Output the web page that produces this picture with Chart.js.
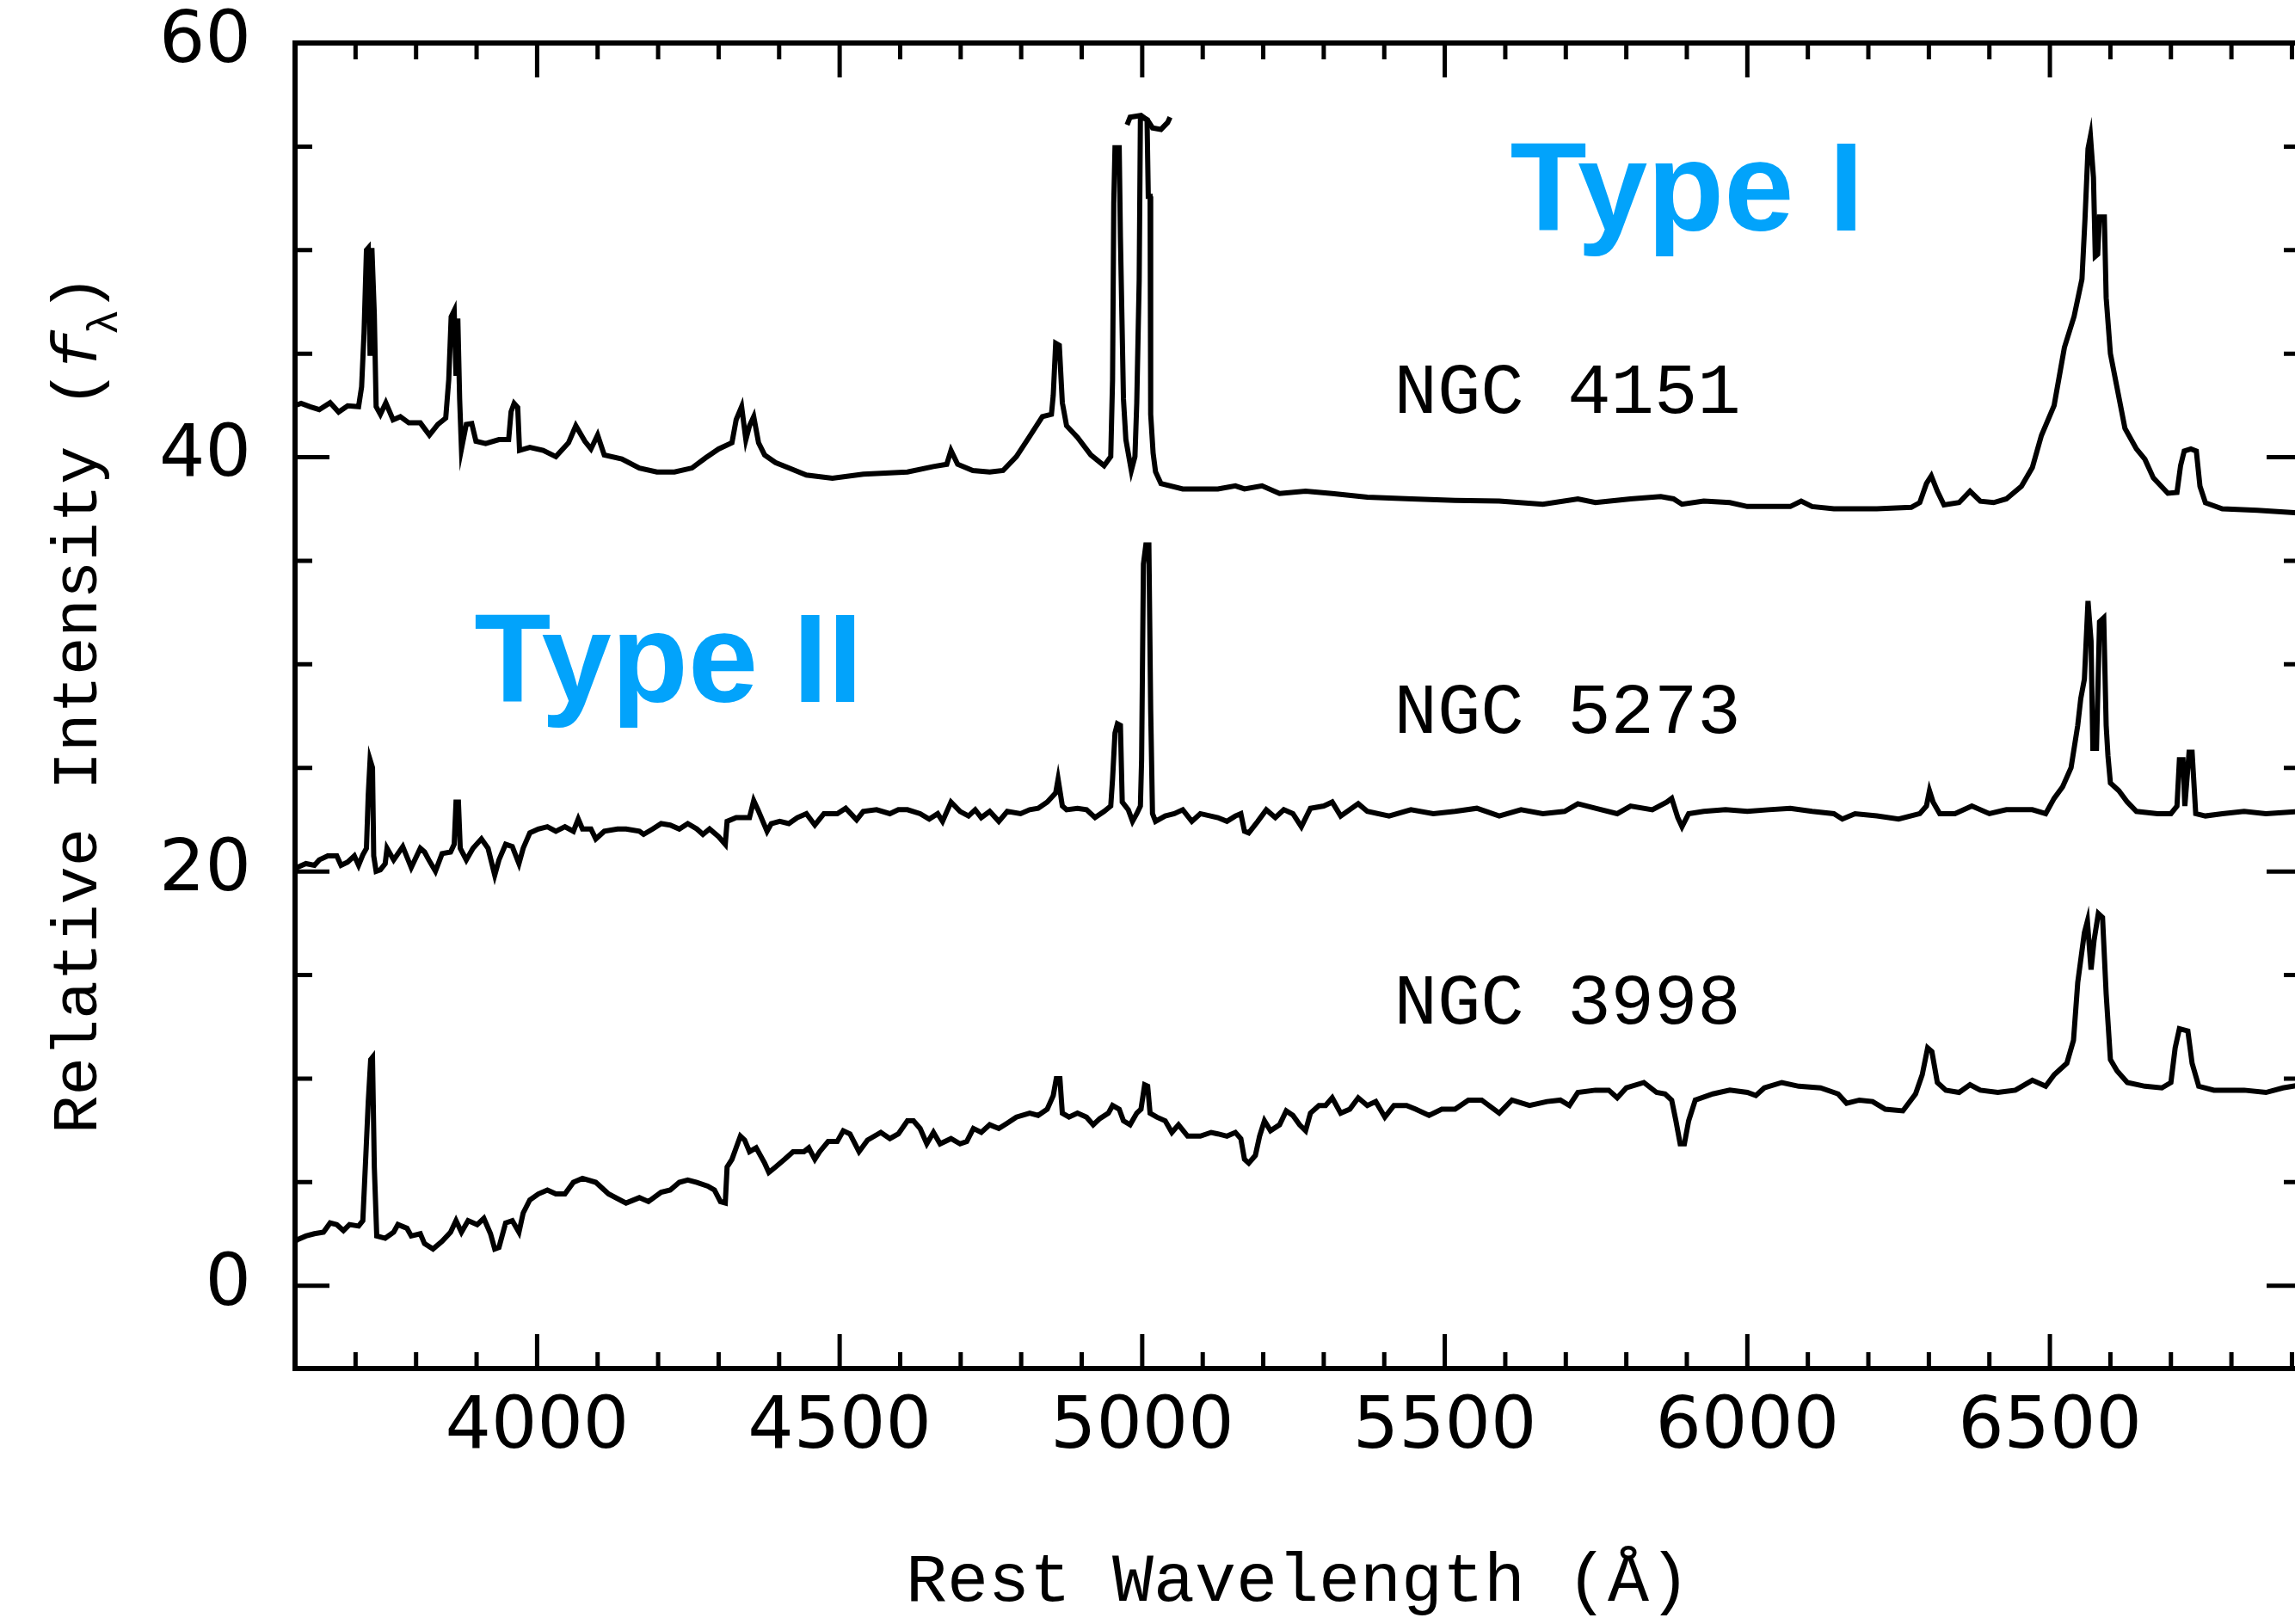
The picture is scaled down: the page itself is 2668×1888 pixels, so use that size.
<!DOCTYPE html>
<html>
<head>
<meta charset="utf-8">
<script src="https://cdn.jsdelivr.net/npm/chart.js@4.4.1/dist/chart.umd.min.js"></script>
<style>
  html, body { margin: 0; padding: 0; background: #fff; overflow: hidden; }
  #wrap { position: relative; width: 2680px; height: 1888px; }
</style>
</head>
<body>
<div id="wrap"><canvas id="spectra"></canvas></div>
<script>
// Optical spectra of three Seyfert nuclei (Å, relative f_lambda)

const ngc4151Wave = [
  3600,3610,3625,3640,3658,3672,3687,3705,3710,3714,
  3718,3721,3724,3727,3731,3734,3741,3750,3762,3774,
  3788,3807,3822,3836,3849,3854,3858,3863,3866,3869,
  3872,3875,3883,3892,3899,3915,3937,3953,3957,3962,
  3968,3971,3988,4010,4031,4052,4064,4079,4089,4100,
  4111,4140,4169,4198,4227,4256,4278,4300,4322,4329,
  4338,4345,4351,4358,4366,4376,4394,4416,4445,4488,
  4539,4612,4655,4677,4684,4695,4720,4748,4770,4792,
  4813,4835,4850,4853,4857,4863,4868,4875,4893,4915,
  4937,4948,4951,4953,4955,4962,4964,4969,4973,4982,
  4988,4991,4995,4997,5001,5008,5010,5013,5014,5018,
  5022,5031,5067,5096,5125,5154,5169,5198,5227,5270,
  5314,5372,5445,5517,5590,5662,5720,5749,5807,5857,
  5878,5892,5928,5971,6000,6071,6089,6107,6143,6214,
  6271,6285,6296,6304,6314,6325,6350,6368,6385,6407,
  6428,6453,6471,6486,6507,6524,6540,6553,6558,6563,
  6567,6572,6575,6579,6582,6590,6593,6600,6610,6624,
  6643,6657,6671,6695,6710,6716,6722,6733,6742,6748,
  6757,6785,6843,6915
];
const ngc4151Flux = [
  42.5,42.6,42.44,42.3,42.63,42.18,42.48,42.44,43.4,46.0,
  50.0,50.1,44.9,50.1,46.9,42.44,42.07,42.63,41.81,41.96,
  41.66,41.66,41.07,41.59,41.89,43.74,46.78,47.08,43.93,46.7,
  42.81,40.4,41.59,41.63,40.77,40.66,40.85,40.85,42.2,42.6,
  42.4,40.33,40.48,40.33,40.03,40.7,41.52,40.77,40.4,41.07,
  40.11,39.92,39.48,39.29,39.29,39.48,39.96,40.4,40.7,41.81,
  42.44,40.85,41.52,41.96,40.7,40.11,39.74,39.48,39.14,38.99,
  39.18,39.29,39.55,39.66,40.33,39.66,39.36,39.29,39.36,40.03,
  40.96,41.96,42.07,43.0,45.5,45.4,42.63,41.52,40.96,40.11,
  39.59,40.03,43.74,52.27,54.94,54.94,50.6,42.81,40.85,39.36,
  40.03,42.63,48.56,56.3,56.4,56.3,52.6,52.6,42.07,40.2,
  39.3,38.73,38.47,38.47,38.47,38.62,38.47,38.62,38.25,38.36,
  38.25,38.07,37.99,37.92,37.88,37.73,37.99,37.81,37.99,38.1,
  37.99,37.73,37.88,37.81,37.62,37.62,37.88,37.62,37.51,37.51,
  37.58,37.81,38.73,39.1,38.36,37.7,37.81,38.36,37.88,37.81,
  37.99,38.6,39.5,41.05,42.5,45.3,46.8,48.6,51.5,54.9,
  55.5,53.5,49.7,49.8,51.6,51.6,47.7,45.0,43.5,41.4,
  40.4,39.9,39.0,38.26,38.3,39.6,40.3,40.4,40.3,38.6,
  37.8,37.51,37.44,37.3
];
// clipped top of [O III] 5007 in NGC 4151
const ngc4151CapWave = [4975, 4980, 4998, 5009, 5017, 5031, 5042, 5046];
const ngc4151CapFlux = [56.05, 56.42, 56.5, 56.27, 55.9, 55.83, 56.16, 56.42];

const ngc5273Wave = [
  3600,3603,3618,3632,3640,3654,3669,3676,3687,3698,
  3705,3712,3718,3721,3724,3728,3730,3734,3741,3749,
  3752,3763,3778,3792,3807,3814,3821,3832,3843,3857,
  3863,3866,3870,3873,3883,3894,3908,3919,3930,3937,
  3948,3959,3970,3977,3988,4002,4017,4031,4046,4060,
  4068,4075,4089,4097,4111,4133,4147,4169,4176,4191,
  4205,4220,4235,4249,4264,4274,4285,4300,4311,4314,
  4329,4351,4358,4365,4380,4387,4401,4416,4430,4445,
  4459,4474,4496,4510,4528,4539,4561,4583,4597,4612,
  4633,4648,4662,4670,4684,4699,4713,4724,4734,4748,
  4763,4777,4799,4814,4828,4843,4857,4861,4868,4875,
  4893,4908,4922,4937,4948,4951,4955,4959,4964,4967,
  4977,4984,4991,4997,4999,5002,5006,5011,5014,5017,
  5022,5038,5053,5067,5082,5096,5125,5140,5154,5163,
  5169,5176,5191,5205,5220,5234,5249,5263,5278,5300,
  5314,5328,5357,5372,5408,5444,5481,5517,5553,5590,
  5626,5662,5698,5720,5749,5785,5807,5843,5867,5875,
  5885,5892,5903,5928,5964,6000,6035,6071,6107,6143,
  6157,6178,6214,6250,6285,6296,6301,6307,6318,6343,
  6371,6400,6428,6471,6493,6507,6521,6535,6546,6551,
  6557,6563,6568,6571,6577,6582,6589,6593,6596,6600,
  6614,6628,6643,6678,6700,6710,6714,6720,6723,6730,
  6735,6741,6757,6785,6821,6857,6915
];
const ngc5273Flux = [
  20.0,20.19,20.38,20.3,20.56,20.75,20.75,20.3,20.45,20.75,
  20.3,20.8,21.12,23.72,25.39,25.01,20.75,20.01,20.08,20.38,
  21.12,20.56,21.2,20.19,21.12,20.94,20.56,20.01,20.86,20.94,
  21.31,23.35,23.35,21.12,20.56,21.12,21.57,21.12,19.82,20.56,
  21.31,21.2,20.38,21.12,21.86,22.05,22.16,21.94,22.16,21.94,
  22.53,22.05,22.05,21.57,21.94,22.05,22.05,21.94,21.79,22.05,
  22.31,22.24,22.05,22.31,22.05,21.79,22.05,21.68,21.31,22.42,
  22.6,22.6,23.42,22.98,21.94,22.31,22.42,22.31,22.6,22.79,
  22.24,22.79,22.79,23.05,22.49,22.9,22.98,22.79,22.98,22.98,
  22.79,22.53,22.79,22.42,23.35,22.9,22.68,22.98,22.6,22.9,
  22.42,22.9,22.79,22.98,23.05,23.35,23.79,24.46,23.16,22.98,
  23.05,22.98,22.6,22.9,23.16,24.46,26.68,27.13,27.05,23.35,
  22.98,22.42,22.79,23.16,25.39,34.84,35.77,35.77,27.8,22.79,
  22.42,22.68,22.79,22.98,22.42,22.79,22.6,22.42,22.68,22.79,
  21.94,21.86,22.42,22.98,22.6,22.98,22.79,22.16,23.05,23.16,
  23.35,22.68,23.27,22.9,22.68,22.98,22.79,22.9,23.05,22.68,
  22.98,22.79,22.9,23.27,23.05,22.79,23.16,22.98,23.35,23.53,
  22.6,22.16,22.79,22.9,22.98,22.9,22.98,23.05,22.9,22.79,
  22.53,22.79,22.68,22.53,22.79,23.16,23.9,23.35,22.79,22.79,
  23.16,22.79,22.98,22.98,22.79,23.53,24.09,25.01,27.05,28.35,
  29.28,33.06,31.13,25.94,25.94,32.06,32.25,27.05,25.57,24.27,
  23.9,23.35,22.9,22.79,22.79,23.16,25.39,25.39,23.16,25.76,
  25.76,22.79,22.68,22.79,22.9,22.79,22.9
];

const ngc3998Wave = [
  3600,3603,3618,3632,3647,3658,3669,3680,3690,3705,
  3712,3717,3721,3725,3728,3731,3735,3749,3763,3770,
  3785,3792,3807,3814,3828,3843,3857,3866,3875,3886,
  3901,3912,3923,3930,3937,3948,3959,3970,3977,3988,
  4002,4017,4031,4046,4060,4075,4097,4118,4147,4169,
  4184,4205,4220,4235,4249,4264,4282,4293,4303,4311,
  4314,4322,4329,4336,4343,4351,4362,4376,4383,4394,
  4409,4423,4441,4449,4459,4467,4481,4496,4506,4517,
  4532,4546,4568,4583,4597,4612,4622,4633,4644,4655,
  4666,4684,4699,4710,4721,4734,4748,4763,4777,4792,
  4814,4828,4843,4853,4858,4864,4868,4879,4893,4908,
  4919,4930,4944,4951,4962,4969,4980,4991,4998,5004,
  5009,5013,5024,5038,5049,5060,5075,5096,5114,5125,
  5140,5154,5163,5169,5176,5187,5194,5202,5212,5227,
  5238,5249,5260,5270,5278,5292,5303,5314,5328,5343,
  5357,5372,5386,5401,5416,5437,5452,5474,5495,5517,
  5539,5561,5590,5611,5640,5669,5691,5706,5720,5749,
  5771,5785,5800,5829,5850,5864,5875,5882,5889,5896,
  5903,5914,5943,5971,6000,6014,6028,6057,6085,6121,
  6150,6164,6185,6207,6228,6257,6278,6289,6298,6305,
  6314,6328,6350,6368,6385,6414,6443,6471,6493,6507,
  6528,6539,6546,6557,6562,6568,6573,6580,6587,6593,
  6600,6611,6628,6657,6685,6700,6707,6714,6728,6735,
  6746,6771,6821,6857,6885,6915
];
const ngc3998Flux = [
  2.1,2.21,2.40,2.51,2.58,3.03,2.95,2.66,2.95,2.88,
  3.14,6.29,8.89,10.92,11.03,5.73,2.40,2.29,2.58,2.95,
  2.77,2.40,2.51,2.03,1.77,2.14,2.58,3.14,2.58,3.14,
  2.95,3.25,2.51,1.77,1.85,3.03,3.14,2.58,3.51,4.14,
  4.43,4.62,4.43,4.43,4.99,5.18,4.99,4.43,3.99,4.25,
  4.06,4.51,4.62,4.99,5.1,4.99,4.81,4.62,4.06,3.99,
  5.73,6.1,6.66,7.22,7.03,6.47,6.66,5.92,5.47,5.73,
  6.1,6.47,6.47,6.66,6.1,6.47,6.96,6.96,7.48,7.33,
  6.47,7.03,7.4,7.1,7.33,7.96,7.96,7.59,6.85,7.4,
  6.85,7.1,6.85,6.96,7.59,7.4,7.77,7.59,7.85,8.14,
  8.33,8.22,8.52,9.18,10.0,10.0,8.33,8.14,8.33,8.14,
  7.77,8.07,8.33,8.7,8.52,7.96,7.77,8.33,8.52,9.7,
  9.63,8.33,8.14,7.96,7.4,7.77,7.22,7.22,7.4,7.33,
  7.22,7.4,7.1,6.1,5.92,6.29,7.22,7.96,7.48,7.77,
  8.44,8.22,7.77,7.48,8.33,8.7,8.7,9.07,8.33,8.52,
  9.07,8.7,8.89,8.14,8.7,8.7,8.52,8.22,8.52,8.52,
  8.96,8.96,8.33,8.96,8.7,8.89,8.96,8.7,9.33,9.44,
  9.44,9.07,9.55,9.81,9.33,9.26,8.96,7.96,6.85,6.85,
  7.96,8.96,9.26,9.44,9.33,9.18,9.55,9.81,9.63,9.55,
  9.26,8.81,8.96,8.89,8.52,8.44,9.26,10.18,11.48,11.3,
  9.81,9.44,9.33,9.7,9.44,9.33,9.44,9.92,9.63,10.18,
  10.74,11.85,14.63,17.04,17.6,15.26,16.67,17.97,17.78,14.08,
  10.92,10.37,9.81,9.63,9.55,9.81,11.48,12.41,12.3,10.74,
  9.63,9.44,9.44,9.33,9.55,9.7
];

const xTickLabels = [4000, 4500, 5000, 5500, 6000, 6500];
const yTickLabels = [0, 20, 40, 60];
const xMinorStep = 100;
const yMinorStep = 5;

// object names and AGN type labels, anchored in data coordinates
const objectNames = ['NGC 4151', 'NGC 5273', 'NGC 3998'];
const objectWave = [5416, 5416, 5416];
const objectFlux = [42.13, 26.69, 12.65];
const typeNames = ['Type I', 'Type II'];
const typeWave = [5608, 3896];
const typeFlux = [50.95, 28.18];

function toPoints(wave, flux) {
  if (wave.length !== flux.length) throw new Error('length mismatch ' + wave.length + ' vs ' + flux.length);
  return wave.map((w, i) => ({ x: w, y: flux[i] }));
}

const lineStyle = { borderColor: '#000', borderWidth: 6, pointRadius: 0, tension: 0, fill: false };

// inward ticks on all four sides plus the box
const frameTicks = {
  id: 'frameTicks',
  afterDatasetsDraw(chart) {
    const { ctx, chartArea: a, scales: { x, y } } = chart;
    ctx.save();
    ctx.strokeStyle = '#000';
    ctx.lineCap = 'butt';
    ctx.lineWidth = 5;
    ctx.beginPath();
    for (let w = x.min - (x.min % xMinorStep); w <= x.max; w += xMinorStep) {
      if (w <= x.min) continue;
      const px = x.getPixelForValue(w);
      const len = w % 500 === 0 ? 40 : 19;
      ctx.moveTo(px, a.bottom); ctx.lineTo(px, a.bottom - len);
      ctx.moveTo(px, a.top); ctx.lineTo(px, a.top + len);
    }
    for (let v = 0; v <= y.max; v += yMinorStep) {
      const py = y.getPixelForValue(v);
      const len = v % 20 === 0 ? 40 : 20;
      ctx.moveTo(a.left, py); ctx.lineTo(a.left + len, py);
      ctx.moveTo(a.right, py); ctx.lineTo(a.right - len, py);
    }
    ctx.stroke();
    ctx.lineWidth = 6;
    ctx.strokeRect(a.left, a.top, a.right - a.left, a.bottom - a.top);
    ctx.restore();
  },
  afterDraw(chart) {
    const { ctx, scales: { x, y } } = chart;
    ctx.save();
    ctx.textBaseline = 'alphabetic';
    ctx.textAlign = 'left';
    ctx.fillStyle = '#000';
    ctx.font = '84px "Liberation Mono"';
    objectNames.forEach((name, i) => {
      ctx.fillText(name, x.getPixelForValue(objectWave[i]), y.getPixelForValue(objectFlux[i]));
    });
    ctx.fillStyle = '#02a3fb';
    ctx.font = 'bold 146px "Liberation Sans"';
    typeNames.forEach((name, i) => {
      ctx.fillText(name, x.getPixelForValue(typeWave[i]), y.getPixelForValue(typeFlux[i]));
    });

    // rotated y title with italic f and subscript lambda
    ctx.fillStyle = '#000';
    ctx.translate(112, 1318);
    ctx.rotate(-Math.PI / 2);
    let pos = 0;
    ctx.font = '74px "Liberation Mono"';
    ctx.fillText('Relative Intensity (', pos, 0);
    pos += ctx.measureText('Relative Intensity (').width;
    ctx.font = 'italic 74px "Liberation Mono"';
    ctx.fillText('f', pos, 0);
    pos += ctx.measureText('f').width;
    ctx.font = '50px "Liberation Mono"';
    ctx.fillText('λ', pos - 4, 24);
    pos += ctx.measureText('λ').width - 4;
    ctx.font = '74px "Liberation Mono"';
    ctx.fillText(')', pos - 4, 0);
    ctx.restore();
  }
};

function noOverhang(s) {
  s.paddingTop = 0; s.paddingBottom = 0; s.paddingLeft = 0; s.paddingRight = 0;
}

new Chart(document.getElementById('spectra'), {
  type: 'line',
  data: {
    datasets: [
      { label: 'NGC 4151', data: toPoints(ngc4151Wave, ngc4151Flux), ...lineStyle },
      { label: 'NGC 4151 [O III] cap', data: toPoints(ngc4151CapWave, ngc4151CapFlux), ...lineStyle },
      { label: 'NGC 5273', data: toPoints(ngc5273Wave, ngc5273Flux), ...lineStyle },
      { label: 'NGC 3998', data: toPoints(ngc3998Wave, ngc3998Flux), ...lineStyle }
    ]
  },
  options: {
    responsive: true, maintainAspectRatio: false, animation: false,
    devicePixelRatio: 1,
    layout: { padding: { left: 0, top: 50, right: 5, bottom: 0 } },
    plugins: { legend: { display: false }, tooltip: { enabled: false } },
    scales: {
      x: {
        type: 'linear', min: 3600, max: 6915,
        grid: { display: false, drawTicks: false },
        border: { display: false },
        afterBuildTicks: s => { s.ticks = xTickLabels.map(v => ({ value: v })); },
        afterFit: s => { s.height = 297; noOverhang(s); },
        ticks: { color: '#000', font: { family: 'DejaVu Sans', size: 84 }, padding: 20, maxRotation: 0, autoSkip: false,
                 callback: v => String(v) },
        title: { display: true, text: 'Rest Wavelength (Å)', color: '#000', font: { family: 'Liberation Mono', size: 80 }, padding: { top: 0, bottom: 0 } }
      },
      y: {
        type: 'linear', min: -4, max: 60,
        grid: { display: false, drawTicks: false },
        border: { display: false },
        afterBuildTicks: s => { s.ticks = yTickLabels.map(v => ({ value: v })); },
        afterFit: s => { s.width = 343; noOverhang(s); },
        ticks: { color: '#000', font: { family: 'DejaVu Sans', size: 84 }, padding: 51, callback: v => String(v) }
      }
    }
  },
  plugins: [frameTicks]
});
</script>
</body>
</html>
